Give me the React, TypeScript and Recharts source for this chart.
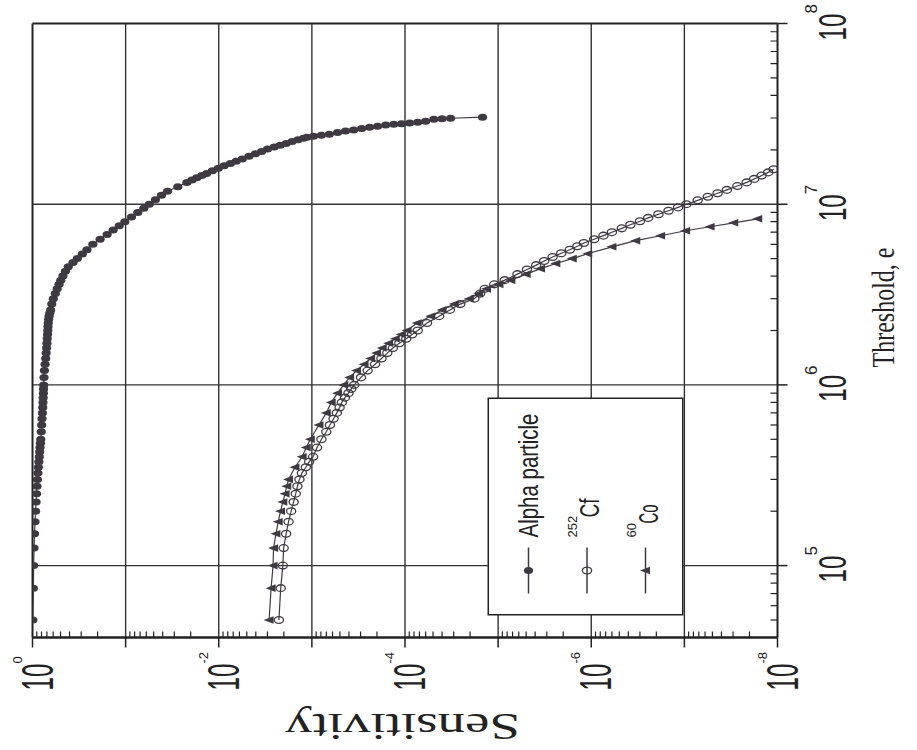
import React from 'react'
import { ScatterChart, Scatter, XAxis, YAxis, ReferenceLine, Legend } from 'recharts'

// Values (threshold in e, sensitivity as fraction).
// The scan is the plot turned 90° counter-clockwise, so the chart is drawn
// in its normal orientation and the whole thing is rotated with CSS.

const alphaThreshold = [
  5e4, 7.5e4, 1e5, 1.25e5, 1.5e5, 1.75e5, 2e5, 2.25e5, 2.5e5, 2.75e5,
  3e5, 3.25e5, 3.5e5, 3.75e5, 4e5, 4.25e5, 4.5e5, 4.75e5, 5e5, 5.5e5,
  6e5, 6.5e5, 7e5, 7.5e5, 8e5, 8.5e5, 9e5, 9.5e5, 1e6, 1.1e6,
  1.2e6, 1.3e6, 1.4e6, 1.5e6, 1.6e6, 1.7e6, 1.8e6, 1.9e6, 2e6, 2.1e6,
  2.2e6, 2.3e6, 2.4e6, 2.5e6, 2.6e6, 2.8e6, 3e6, 3.2e6, 3.4e6, 3.6e6,
  3.8e6, 4e6, 4.25e6, 4.5e6, 4.75e6, 5e6, 5.3e6, 5.6e6, 6e6, 6.4e6,
  6.8e6, 7.2e6, 7.6e6, 8e6, 8.5e6, 9e6, 9.5e6, 1e7, 1.06e7, 1.12e7,
  1.18e7, 1.25e7, 1.32e7, 1.36e7, 1.4e7, 1.44e7, 1.48e7, 1.53e7, 1.58e7, 1.63e7,
  1.68e7, 1.73e7, 1.78e7, 1.84e7, 1.9e7, 1.96e7, 2.02e7, 2.07e7, 2.12e7, 2.17e7,
  2.22e7, 2.27e7, 2.32e7, 2.35e7, 2.38e7, 2.41e7, 2.44e7, 2.49e7, 2.54e7, 2.57e7,
  2.62e7, 2.67e7, 2.7e7, 2.74e7, 2.77e7, 2.79e7, 2.81e7, 2.84e7, 2.88e7, 2.95e7,
  2.97e7, 2.99e7, 3.03e7,
]
const alphaSensitivity = [
  0.99, 0.978, 0.972, 0.962, 0.95, 0.94, 0.927, 0.915, 0.905, 0.895,
  0.885, 0.875, 0.865, 0.855, 0.845, 0.837, 0.83, 0.822, 0.815, 0.805,
  0.797, 0.79, 0.783, 0.777, 0.772, 0.768, 0.764, 0.761, 0.758, 0.752,
  0.744, 0.733, 0.722, 0.713, 0.706, 0.7, 0.695, 0.69, 0.686, 0.682,
  0.677, 0.671, 0.664, 0.652, 0.638, 0.621, 0.598, 0.569, 0.543, 0.519,
  0.497, 0.471, 0.443, 0.413, 0.367, 0.33, 0.292, 0.26, 0.225, 0.188,
  0.158, 0.136, 0.117, 0.102, 0.0865, 0.074, 0.0638, 0.0557, 0.0479, 0.0412,
  0.0355, 0.0275, 0.022, 0.0194, 0.0172, 0.0152, 0.0135, 0.0117, 0.0101, 8.75e-3,
  7.5e-3, 6.5e-3, 5.6e-3, 4.74e-3, 4.04e-3, 3.47e-3, 2.99e-3, 2.54e-3, 2.19e-3, 1.89e-3,
  1.63e-3, 1.41e-3, 1.23e-3, 1.13e-3, 9.6e-4, 7.9e-4, 6.5e-4, 5.3e-4, 4.35e-4, 3.56e-4,
  2.92e-4, 2.4e-4, 1.97e-4, 1.61e-4, 1.32e-4, 1.09e-4, 8.9e-5, 7.3e-5, 6.0e-5, 4.9e-5,
  4.0e-5, 3.24e-5, 1.47e-5,
]

const cfThreshold = [
  5e4, 7.5e4, 1e5, 1.25e5, 1.5e5, 1.75e5, 2e5, 2.25e5, 2.5e5, 2.75e5,
  3e5, 3.25e5, 3.5e5, 3.75e5, 4e5, 4.5e5, 5e5, 5.5e5, 6e5, 6.5e5,
  7e5, 7.5e5, 8e5, 8.5e5, 9e5, 9.5e5, 1e6, 1.1e6, 1.2e6, 1.3e6,
  1.4e6, 1.5e6, 1.6e6, 1.7e6, 1.8e6, 1.9e6, 2e6, 2.2e6, 2.4e6, 2.6e6,
  2.8e6, 3e6, 3.2e6, 3.4e6, 3.6e6, 3.8e6, 4.1e6, 4.35e6, 4.6e6, 4.85e6,
  5.1e6, 5.35e6, 5.6e6, 5.85e6, 6.1e6, 6.4e6, 6.7e6, 7e6, 7.35e6, 7.7e6,
  8.05e6, 8.4e6, 8.8e6, 9.2e6, 9.6e6, 1e7, 1.05e7, 1.1e7, 1.15e7, 1.2e7,
  1.26e7, 1.32e7, 1.38e7, 1.44e7, 1.5e7, 1.56e7,
]
const cfSensitivity = [
  2.26e-3, 2.16e-3, 2.05e-3, 2.01e-3, 1.89e-3, 1.78e-3, 1.67e-3, 1.57e-3, 1.49e-3, 1.43e-3,
  1.36e-3, 1.28e-3, 1.16e-3, 1.07e-3, 9.7e-4, 8.8e-4, 7.9e-4, 7.0e-4, 6.4e-4, 5.85e-4,
  5.4e-4, 5.04e-4, 4.77e-4, 4.41e-4, 4.05e-4, 3.78e-4, 3.51e-4, 2.97e-4, 2.52e-4, 2.1e-4,
  1.79e-4, 1.55e-4, 1.35e-4, 1.15e-4, 9.7e-5, 8.4e-5, 7.3e-5, 5.8e-5, 4.3e-5, 3.3e-5,
  2.55e-5, 1.8e-5, 1.56e-5, 1.39e-5, 1.1e-5, 8.5e-6, 6.2e-6, 4.9e-6, 3.9e-6, 3.2e-6,
  2.6e-6, 2.1e-6, 1.7e-6, 1.41e-6, 1.2e-6, 9.3e-7, 7.4e-7, 6.0e-7, 4.7e-7, 3.8e-7,
  3.0e-7, 2.45e-7, 1.9e-7, 1.48e-7, 1.17e-7, 9.5e-8, 7.2e-8, 5.6e-8, 4.4e-8, 3.5e-8,
  2.7e-8, 2.14e-8, 1.78e-8, 1.48e-8, 1.26e-8, 1.1e-8,
]

const coThreshold = [
  5e4, 7.5e4, 1e5, 1.25e5, 1.5e5, 1.75e5, 2e5, 2.25e5, 2.5e5, 2.75e5,
  3e5, 3.5e5, 4e5, 4.5e5, 5e5, 6e5, 7e5, 8e5, 9e5, 1e6,
  1.1e6, 1.2e6, 1.3e6, 1.4e6, 1.5e6, 1.6e6, 1.7e6, 1.8e6, 1.9e6, 2e6,
  2.2e6, 2.4e6, 2.6e6, 2.8e6, 3e6, 3.2e6, 3.4e6, 3.6e6, 3.8e6, 4.1e6,
  4.4e6, 4.7e6, 5e6, 5.32e6, 5.81e6, 6.28e6, 6.69e6, 7.13e6, 7.5e6, 7.89e6,
  8.3e6,
]
const coSensitivity = [
  2.88e-3, 2.74e-3, 2.61e-3, 2.58e-3, 2.43e-3, 2.3e-3, 2.17e-3, 2.05e-3, 1.94e-3, 1.86e-3,
  1.78e-3, 1.52e-3, 1.27e-3, 1.15e-3, 1.04e-3, 8.4e-4, 7.0e-4, 6.2e-4, 5.3e-4, 4.55e-4,
  3.93e-4, 3.31e-4, 2.75e-4, 2.34e-4, 2.02e-4, 1.76e-4, 1.5e-4, 1.27e-4, 1.1e-4, 9.5e-5,
  7.4e-5, 5.3e-5, 4.0e-5, 2.96e-5, 2.04e-5, 1.62e-5, 1.33e-5, 9.8e-6, 7.3e-6, 5.0e-6,
  3.5e-6, 2.4e-6, 1.6e-6, 1.09e-6, 6.0e-7, 3.33e-7, 1.8e-7, 9.7e-8, 5.3e-8, 2.95e-8,
  1.63e-8,
]

const thresholdDecades = [1e5, 1e6, 1e7, 1e8]
const sensitivityDecades = [1, 1e-1, 1e-2, 1e-3, 1e-4, 1e-5, 1e-6, 1e-7, 1e-8]
const legendLabels = ['Alpha particle', 'Cf', 'Co']
const legendIsotopes = ['', '252', '60']

const minorSteps = [2, 3, 4, 5, 6, 7, 8, 9]
const thresholdMinor = [5e4, 6e4, 7e4, 8e4, 9e4, ...[1e5, 1e6, 1e7].flatMap((d) => minorSteps.map((k) => k * d))]
const sensitivityMinor = sensitivityDecades.slice(1).flatMap((d) => minorSteps.map((k) => k * d))
const thresholdTicks = [...thresholdMinor, ...thresholdDecades].sort((a, b) => a - b)
const sensitivityTicks = [...sensitivityMinor, ...sensitivityDecades].sort((a, b) => a - b)

const toPoints = (t: number[], s: number[]) => t.map((x, i) => ({ t: x, s: s[i] }))
const alphaData = toPoints(alphaThreshold, alphaSensitivity)
const cfData = toPoints(cfThreshold, cfSensitivity)
const coData = toPoints(coThreshold, coSensitivity)

const INK = '#222'
const SERIES = '#3f3a42'
const SANS = '"Liberation Sans", Arial, Helvetica, sans-serif'
const SERIF = '"Liberation Serif", "Times New Roman", serif'

const isDecade = (v: number) => Math.abs(Math.log10(v) - Math.round(Math.log10(v))) < 1e-6
const expOf = (v: number) => Math.round(Math.log10(v))

function ThresholdTick(props: any) {
  const { x, y, payload } = props
  const v = payload.value
  if (!isDecade(v)) {
    return <line x1={x} y1={y} x2={x} y2={y - 7} stroke={INK} strokeWidth={1.2} />
  }
  return (
    <g>
      <line x1={x} y1={y} x2={x} y2={y + 10} stroke={INK} strokeWidth={1.5} />
      <g transform={`translate(${x + 10},${y + 68}) scale(0.62,1)`}>
        <text textAnchor="end" fontFamily={SANS} fontSize={39} fill={INK}>10</text>
      </g>
      <text x={x + 10} y={y + 39} fontFamily={SANS} fontSize={17} fill={INK}>{expOf(v)}</text>
    </g>
  )
}

function SensitivityTick(props: any) {
  const { x, y, payload } = props
  const v = payload.value
  if (!isDecade(v)) {
    return <line x1={x} y1={y} x2={x + 6} y2={y} stroke={INK} strokeWidth={1.2} />
  }
  const e = expOf(v)
  return (
    <g>
      <line x1={x - 10} y1={y} x2={x} y2={y} stroke={INK} strokeWidth={1.5} />
      {e % 2 === 0 && (
        <g>
          <g transform={`translate(${x - 26},${y + 20}) scale(0.55,1)`}>
            <text textAnchor="end" fontFamily={SANS} fontSize={44} fill={INK}>10</text>
          </g>
          <text x={x - 26} y={y - 11} fontFamily={SANS} fontSize={13} fill={INK}>{e}</text>
        </g>
      )}
    </g>
  )
}

function MirrorTick(props: any) {
  const { x, y, payload } = props
  if (isDecade(payload.value)) return <g />
  return <line x1={x - 6} y1={y} x2={x} y2={y} stroke={INK} strokeWidth={1.2} />
}

function ThresholdTitle(props: any) {
  const vb = props.viewBox || { x: 113, y: 777 }
  return (
    <text x={vb.x + 330} y={vb.y + 116} textAnchor="middle" fontFamily={SERIF} fontSize={32} fill={INK}
      textLength={120} lengthAdjust="spacingAndGlyphs">
      Threshold, e
    </text>
  )
}

function SensitivityTitle(props: any) {
  const vb = props.viewBox || { x: 0, y: 32 }
  const cx = vb.x + 37
  const cy = vb.y + 370
  return (
    <text x={cx} y={cy} transform={`rotate(-90 ${cx} ${cy})`} textAnchor="middle" fontFamily={SERIF}
      fontSize={37} fill={INK} textLength={235} lengthAdjust="spacingAndGlyphs">
      Sensitivity
    </text>
  )
}

// markers are taller than wide here: the scan is stretched across the page
const FilledDot = (p: any) => <ellipse cx={p.cx} cy={p.cy} rx={3.5} ry={4.6} fill={SERIES} />
const OpenDot = (p: any) => (
  <ellipse cx={p.cx} cy={p.cy} rx={3.4} ry={4.6} fill="none" stroke={SERIES} strokeWidth={1.3} />
)
const Triangle = (p: any) => (
  <polygon points={`${p.cx},${p.cy - 5.5} ${p.cx - 3.8},${p.cy + 4.5} ${p.cx + 3.8},${p.cy + 4.5}`} fill={SERIES} />
)
const legendShapes = [FilledDot, OpenDot, Triangle]

function LegendBox() {
  return (
    <svg width={260} height={196} style={{ display: 'block', overflow: 'visible' }}>
      <rect x={0.75} y={0.75} width={216.5} height={194.5} fill="#fff" stroke={INK} strokeWidth={1.5} />
      {legendLabels.map((label, i) => {
        const cy = 41 + i * 58.5
        const Shape = legendShapes[i]
        const iso = legendIsotopes[i]
        return (
          <g key={label}>
            <line x1={22} y1={cy} x2={68} y2={cy} stroke={SERIES} strokeWidth={1.5} />
            <Shape cx={45} cy={cy} />
            {iso ? (
              <g>
                <text x={78} y={cy - 10} fontFamily={SANS} fontSize={13} fill={INK}>{iso}</text>
                <text x={78 + iso.length * 6 + 2} y={cy + 12} fontFamily={SANS} fontSize={27} fill={INK}
                  textLength={19} lengthAdjust="spacingAndGlyphs">{label}</text>
              </g>
            ) : (
              <text x={78} y={cy + 9} fontFamily={SANS} fontSize={27} fill={INK}
                textLength={124} lengthAdjust="spacingAndGlyphs">{label}</text>
            )}
          </g>
        )
      })}
    </svg>
  )
}

export default function App() {
  const W = 750
  const H = 917
  return (
    <div style={{ position: 'absolute', left: 0, top: 0, width: 917, height: 750, overflow: 'hidden', background: '#fff' }}>
      <div
        style={{
          position: 'absolute',
          left: (917 - W) / 2,
          top: (750 - H) / 2,
          width: W,
          height: H,
          transform: 'rotate(-90deg)',
        }}
      >
        <ScatterChart width={W} height={H} margin={{ top: 32, right: 23, bottom: 0, left: 0 }}>
          <XAxis
            xAxisId="thr"
            dataKey="t"
            type="number"
            scale="log"
            domain={[4e4, 1e8]}
            allowDataOverflow
            ticks={thresholdTicks}
            interval={0}
            tickSize={0}
            tickMargin={0}
            tickLine={false}
            axisLine={{ stroke: INK, strokeWidth: 2 }}
            tick={(p: any) => <ThresholdTick {...p} />}
            height={140}
            label={{ content: (p: any) => <ThresholdTitle {...p} /> }}
          />
          <YAxis
            yAxisId="sen"
            dataKey="s"
            type="number"
            scale="log"
            domain={[1e-8, 1]}
            allowDataOverflow
            ticks={sensitivityTicks}
            interval={0}
            tickSize={0}
            tickMargin={0}
            tickLine={false}
            axisLine={{ stroke: INK, strokeWidth: 2.5 }}
            tick={(p: any) => <SensitivityTick {...p} />}
            width={113}
            label={{ content: (p: any) => <SensitivityTitle {...p} /> }}
          />
          <YAxis
            yAxisId="senR"
            orientation="right"
            type="number"
            scale="log"
            domain={[1e-8, 1]}
            allowDataOverflow
            ticks={sensitivityTicks}
            interval={0}
            tickSize={0}
            tickMargin={0}
            tickLine={false}
            axisLine={false}
            tick={(p: any) => <MirrorTick {...p} />}
            width={0}
          />
          {thresholdDecades.slice(0, 3).map((v) => (
            <ReferenceLine key={`gx${v}`} xAxisId="thr" yAxisId="sen" x={v} stroke="#333" strokeWidth={1.4} />
          ))}
          {sensitivityDecades.slice(1, 8).map((v) => (
            <ReferenceLine key={`gy${v}`} xAxisId="thr" yAxisId="sen" y={v} stroke="#333" strokeWidth={1.4} />
          ))}
          <ReferenceLine xAxisId="thr" yAxisId="sen" x={1e8} stroke={INK} strokeWidth={2} />
          <ReferenceLine xAxisId="thr" yAxisId="sen" y={1} stroke={INK} strokeWidth={2} />
          <Scatter
            name="Alpha particle"
            data={alphaData}
            xAxisId="thr"
            yAxisId="sen"
            line={{ stroke: SERIES, strokeWidth: 1.2 }}
            lineType="joint"
            shape={FilledDot}
            isAnimationActive={false}
          />
          <Scatter
            name="252Cf"
            data={cfData}
            xAxisId="thr"
            yAxisId="sen"
            line={{ stroke: SERIES, strokeWidth: 1.2 }}
            lineType="joint"
            shape={OpenDot}
            isAnimationActive={false}
          />
          <Scatter
            name="60Co"
            data={coData}
            xAxisId="thr"
            yAxisId="sen"
            line={{ stroke: SERIES, strokeWidth: 1.2 }}
            lineType="joint"
            shape={Triangle}
            isAnimationActive={false}
          />
          <Legend
            layout="vertical"
            align="center"
            verticalAlign="middle"
            wrapperStyle={{ position: 'absolute', left: 135, top: 487, width: 260, height: 196 }}
            content={() => <LegendBox />}
          />
        </ScatterChart>
      </div>
    </div>
  )
}
